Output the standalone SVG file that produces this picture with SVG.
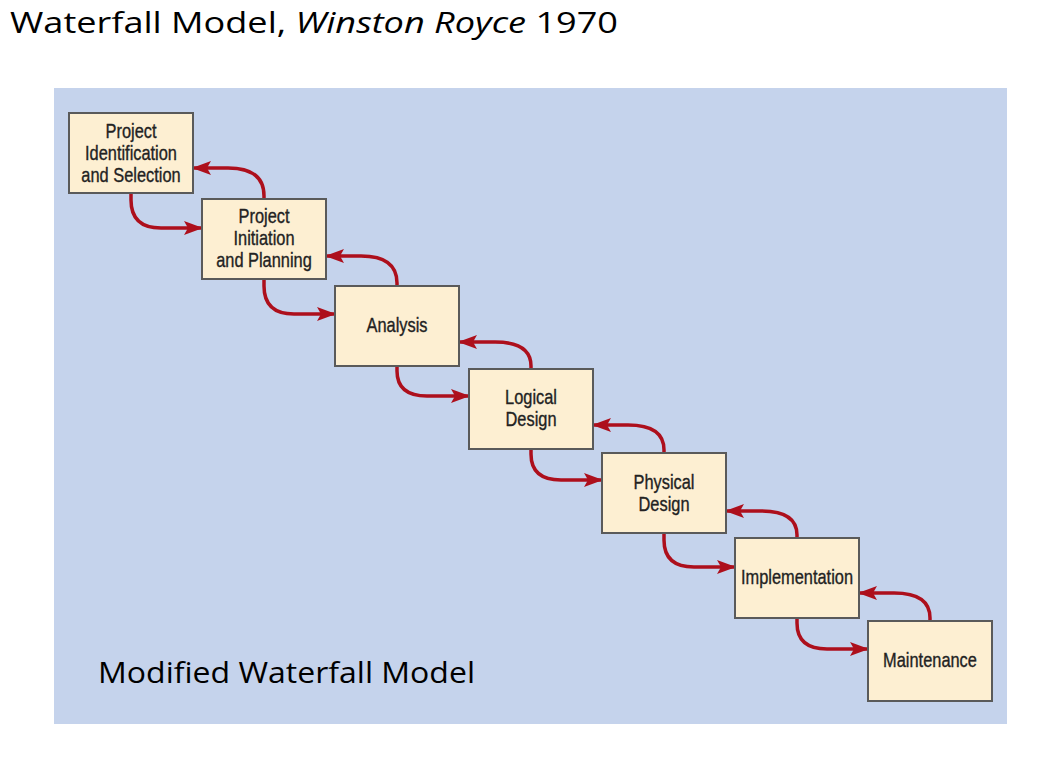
<svg xmlns="http://www.w3.org/2000/svg" width="1050" height="771" viewBox="0 0 1050 771">
<defs>
<marker id="ah" markerWidth="19" markerHeight="14" refX="18" refY="7" orient="auto" markerUnits="userSpaceOnUse">
<path d="M0,0 L19,7 L0,14 L4,7 Z" fill="#ad0f1c"/>
</marker>
<style>
.box{fill:#fdefd2;stroke:#5a5a5a;stroke-width:2}
.lbl{font-family:"Liberation Sans",Arial,sans-serif;font-size:20px;fill:#222;stroke:#222;stroke-width:0.35;text-anchor:middle}
.arr{fill:none;stroke:#ad0f1c;stroke-width:3.5;marker-end:url(#ah)}
.cap{font-family:"Open Sans","Noto Sans",sans-serif;fill:#000}
</style>
</defs>
<rect width="1050" height="771" fill="#ffffff"/>
<text class="cap" x="10" y="33" font-size="29" textLength="608" lengthAdjust="spacingAndGlyphs">Waterfall Model, <tspan font-style="italic">Winston Royce</tspan> 1970</text>
<rect x="54" y="88" width="953" height="636" fill="#c5d3ec"/>
<text class="cap" x="98" y="683" font-size="29" textLength="377" lengthAdjust="spacingAndGlyphs">Modified Waterfall Model</text>

<g id="connectors">
<path class="arr" d="M131,193 V200 Q131,228 161,228 H202"/>
<path class="arr" d="M264,199 V196 Q264,168 228,168 H193"/>
<path class="arr" d="M264,279 V286 Q264,314 294,314 H335"/>
<path class="arr" d="M397,286 V283 Q397,256 361,256 H326"/>
<path class="arr" d="M397,366 V371 Q397,396 427,396 H469"/>
<path class="arr" d="M531,369 V366 Q531,342 495,342 H459"/>
<path class="arr" d="M531,449 V454 Q531,480 561,480 H602"/>
<path class="arr" d="M664,453 V450 Q664,425 628,425 H593"/>
<path class="arr" d="M664,533 V540 Q664,567 694,567 H735"/>
<path class="arr" d="M797,538 V535 Q797,511 761,511 H726"/>
<path class="arr" d="M797,618 V623 Q797,649 827,649 H868"/>
<path class="arr" d="M930,621 V618 Q930,593 894,593 H859"/>
</g>

<g id="n1"><rect class="box" x="69" y="113" width="124" height="80"/>
<text class="lbl" transform="matrix(0.82,0,0,1,131,138)">Project</text><text class="lbl" transform="matrix(0.82,0,0,1,131,160)">Identification</text><text class="lbl" transform="matrix(0.82,0,0,1,131,182)">and Selection</text></g>
<g id="n2"><rect class="box" x="202" y="199" width="124" height="80"/>
<text class="lbl" transform="matrix(0.82,0,0,1,264,223)">Project</text><text class="lbl" transform="matrix(0.82,0,0,1,264,245)">Initiation</text><text class="lbl" transform="matrix(0.82,0,0,1,264,267)">and Planning</text></g>
<g id="n3"><rect class="box" x="335" y="286" width="124" height="80"/>
<text class="lbl" transform="matrix(0.82,0,0,1,397,332)">Analysis</text></g>
<g id="n4"><rect class="box" x="469" y="369" width="124" height="80"/>
<text class="lbl" transform="matrix(0.82,0,0,1,531,404)">Logical</text><text class="lbl" transform="matrix(0.82,0,0,1,531,426)">Design</text></g>
<g id="n5"><rect class="box" x="602" y="453" width="124" height="80"/>
<text class="lbl" transform="matrix(0.82,0,0,1,664,489)">Physical</text><text class="lbl" transform="matrix(0.82,0,0,1,664,511)">Design</text></g>
<g id="n6"><rect class="box" x="735" y="538" width="124" height="80"/>
<text class="lbl" transform="matrix(0.82,0,0,1,797,584)">Implementation</text></g>
<g id="n7"><rect class="box" x="868" y="621" width="124" height="80"/>
<text class="lbl" transform="matrix(0.82,0,0,1,930,667)">Maintenance</text></g>
</svg>
